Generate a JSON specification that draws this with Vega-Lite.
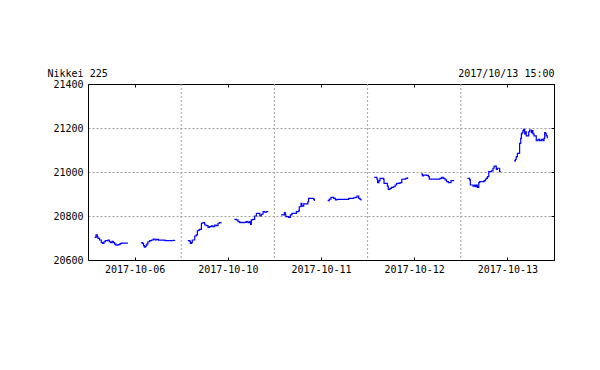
{
  "$schema": "https://vega.github.io/schema/vega-lite/v6.json",
  "autosize": {"type": "none"},
  "padding": {"left": 88, "top": 84, "right": 46, "bottom": 110},
  "width": 466,
  "height": 176,
  "background": "white",
  "config": {
    "font": "DejaVu Sans Mono",
    "view": {"stroke": "black", "strokeWidth": 1},
    "axis": {
      "labelFont": "DejaVu Sans Mono",
      "labelFontSize": 10,
      "labelColor": "black",
      "titleFont": "DejaVu Sans Mono",
      "titleFontSize": 10,
      "titleFontWeight": "normal",
      "titleColor": "black",
      "domainColor": "black",
      "tickColor": "black",
      "tickSize": -3,
      "gridColor": "#a0a0a0",
      "gridDash": [2, 2],
      "gridOpacity": 1
    }
  },
  "datasets": {
    "px": [
      {"s":"1a","t":30,"v":20703},{"s":"1a","t":36,"v":20714},{"s":"1a","t":42,"v":20705},{"s":"1a","t":45,"v":20698},{"s":"1a","t":52,"v":20691},{"s":"1a","t":60,"v":20679},{"s":"1a","t":66,"v":20676},{"s":"1a","t":72,"v":20683},{"s":"1a","t":78,"v":20688},{"s":"1a","t":84,"v":20688},{"s":"1a","t":90,"v":20691},{"s":"1a","t":96,"v":20683},{"s":"1a","t":102,"v":20679},{"s":"1a","t":108,"v":20685},{"s":"1a","t":114,"v":20679},{"s":"1a","t":120,"v":20672},{"s":"1a","t":126,"v":20668},{"s":"1a","t":135,"v":20670},{"s":"1a","t":144,"v":20674},{"s":"1a","t":150,"v":20677},{"s":"1a","t":180,"v":20677},
      {"s":"1p","t":240,"v":20679},{"s":"1p","t":245,"v":20676},{"s":"1p","t":250,"v":20665},{"s":"1p","t":254,"v":20658},{"s":"1p","t":258,"v":20661},{"s":"1p","t":262,"v":20668},{"s":"1p","t":266,"v":20673},{"s":"1p","t":270,"v":20683},{"s":"1p","t":278,"v":20688},{"s":"1p","t":287,"v":20691},{"s":"1p","t":294,"v":20695},{"s":"1p","t":302,"v":20691},{"s":"1p","t":309,"v":20694},{"s":"1p","t":317,"v":20690},{"s":"1p","t":332,"v":20690},{"s":"1p","t":347,"v":20688},{"s":"1p","t":370,"v":20688},{"s":"1p","t":384,"v":20689},{"s":"1p","t":390,"v":20691},
      {"s":"2a","t":450,"v":20688},{"s":"2a","t":458,"v":20686},{"s":"2a","t":461,"v":20676},{"s":"2a","t":466,"v":20679},{"s":"2a","t":470,"v":20691},{"s":"2a","t":476,"v":20691},{"s":"2a","t":481,"v":20709},{"s":"2a","t":488,"v":20714},{"s":"2a","t":493,"v":20733},{"s":"2a","t":499,"v":20736},{"s":"2a","t":503,"v":20739},{"s":"2a","t":511,"v":20767},{"s":"2a","t":518,"v":20770},{"s":"2a","t":526,"v":20759},{"s":"2a","t":533,"v":20756},{"s":"2a","t":541,"v":20748},{"s":"2a","t":548,"v":20752},{"s":"2a","t":556,"v":20755},{"s":"2a","t":563,"v":20752},{"s":"2a","t":571,"v":20759},{"s":"2a","t":578,"v":20756},{"s":"2a","t":586,"v":20767},{"s":"2a","t":593,"v":20770},{"s":"2a","t":600,"v":20771},
      {"s":"2p","t":660,"v":20785},{"s":"2p","t":668,"v":20782},{"s":"2p","t":676,"v":20774},{"s":"2p","t":684,"v":20770},{"s":"2p","t":691,"v":20771},{"s":"2p","t":698,"v":20770},{"s":"2p","t":706,"v":20771},{"s":"2p","t":713,"v":20774},{"s":"2p","t":721,"v":20770},{"s":"2p","t":729,"v":20774},{"s":"2p","t":733,"v":20762},{"s":"2p","t":736,"v":20782},{"s":"2p","t":743,"v":20785},{"s":"2p","t":751,"v":20800},{"s":"2p","t":759,"v":20812},{"s":"2p","t":766,"v":20812},{"s":"2p","t":774,"v":20800},{"s":"2p","t":781,"v":20808},{"s":"2p","t":789,"v":20820},{"s":"2p","t":796,"v":20817},{"s":"2p","t":804,"v":20820},{"s":"2p","t":810,"v":20823},
      {"s":"3a","t":870,"v":20805},{"s":"3a","t":882,"v":20805},{"s":"3a","t":885,"v":20815},{"s":"3a","t":889,"v":20805},{"s":"3a","t":892,"v":20797},{"s":"3a","t":904,"v":20794},{"s":"3a","t":912,"v":20805},{"s":"3a","t":919,"v":20812},{"s":"3a","t":934,"v":20812},{"s":"3a","t":939,"v":20820},{"s":"3a","t":949,"v":20823},{"s":"3a","t":952,"v":20842},{"s":"3a","t":960,"v":20858},{"s":"3a","t":964,"v":20845},{"s":"3a","t":972,"v":20855},{"s":"3a","t":987,"v":20855},{"s":"3a","t":991,"v":20865},{"s":"3a","t":994,"v":20880},{"s":"3a","t":1009,"v":20880},{"s":"3a","t":1017,"v":20876},{"s":"3a","t":1020,"v":20868},
      {"s":"3p","t":1080,"v":20870},{"s":"3p","t":1087,"v":20877},{"s":"3p","t":1095,"v":20885},{"s":"3p","t":1102,"v":20885},{"s":"3p","t":1107,"v":20880},{"s":"3p","t":1115,"v":20873},{"s":"3p","t":1122,"v":20876},{"s":"3p","t":1167,"v":20876},{"s":"3p","t":1175,"v":20880},{"s":"3p","t":1190,"v":20880},{"s":"3p","t":1197,"v":20883},{"s":"3p","t":1205,"v":20885},{"s":"3p","t":1212,"v":20891},{"s":"3p","t":1220,"v":20880},{"s":"3p","t":1226,"v":20876},{"s":"3p","t":1230,"v":20870},
      {"s":"4a","t":1290,"v":20976},{"s":"4a","t":1302,"v":20967},{"s":"4a","t":1305,"v":20952},{"s":"4a","t":1311,"v":20961},{"s":"4a","t":1316,"v":20971},{"s":"4a","t":1323,"v":20971},{"s":"4a","t":1331,"v":20968},{"s":"4a","t":1334,"v":20948},{"s":"4a","t":1341,"v":20948},{"s":"4a","t":1349,"v":20936},{"s":"4a","t":1353,"v":20921},{"s":"4a","t":1361,"v":20926},{"s":"4a","t":1368,"v":20930},{"s":"4a","t":1376,"v":20933},{"s":"4a","t":1384,"v":20941},{"s":"4a","t":1391,"v":20948},{"s":"4a","t":1398,"v":20948},{"s":"4a","t":1406,"v":20952},{"s":"4a","t":1414,"v":20967},{"s":"4a","t":1421,"v":20968},{"s":"4a","t":1432,"v":20971},{"s":"4a","t":1440,"v":20976},
      {"s":"4p","t":1500,"v":20991},{"s":"4p","t":1507,"v":20982},{"s":"4p","t":1511,"v":20986},{"s":"4p","t":1519,"v":20986},{"s":"4p","t":1526,"v":20985},{"s":"4p","t":1534,"v":20979},{"s":"4p","t":1538,"v":20968},{"s":"4p","t":1549,"v":20967},{"s":"4p","t":1556,"v":20968},{"s":"4p","t":1571,"v":20968},{"s":"4p","t":1579,"v":20967},{"s":"4p","t":1586,"v":20971},{"s":"4p","t":1594,"v":20976},{"s":"4p","t":1601,"v":20971},{"s":"4p","t":1609,"v":20964},{"s":"4p","t":1616,"v":20956},{"s":"4p","t":1624,"v":20952},{"s":"4p","t":1631,"v":20952},{"s":"4p","t":1636,"v":20961},{"s":"4p","t":1650,"v":20961},
      {"s":"5a","t":1710,"v":20971},{"s":"5a","t":1720,"v":20964},{"s":"5a","t":1723,"v":20941},{"s":"5a","t":1735,"v":20936},{"s":"5a","t":1742,"v":20941},{"s":"5a","t":1745,"v":20933},{"s":"5a","t":1750,"v":20941},{"s":"5a","t":1755,"v":20930},{"s":"5a","t":1761,"v":20952},{"s":"5a","t":1765,"v":20956},{"s":"5a","t":1780,"v":20956},{"s":"5a","t":1785,"v":20961},{"s":"5a","t":1791,"v":20967},{"s":"5a","t":1795,"v":20971},{"s":"5a","t":1800,"v":20979},{"s":"5a","t":1806,"v":21002},{"s":"5a","t":1818,"v":21005},{"s":"5a","t":1825,"v":21017},{"s":"5a","t":1830,"v":21027},{"s":"5a","t":1836,"v":21027},{"s":"5a","t":1840,"v":21012},{"s":"5a","t":1845,"v":21017},{"s":"5a","t":1851,"v":21017},{"s":"5a","t":1855,"v":21002},{"s":"5a","t":1860,"v":21002},
      {"s":"5p","t":1920,"v":21051},{"s":"5p","t":1926,"v":21058},{"s":"5p","t":1930,"v":21070},{"s":"5p","t":1935,"v":21085},{"s":"5p","t":1941,"v":21085},{"s":"5p","t":1945,"v":21130},{"s":"5p","t":1950,"v":21153},{"s":"5p","t":1953,"v":21173},{"s":"5p","t":1956,"v":21179},{"s":"5p","t":1960,"v":21188},{"s":"5p","t":1963,"v":21194},{"s":"5p","t":1968,"v":21173},{"s":"5p","t":1972,"v":21183},{"s":"5p","t":1975,"v":21164},{"s":"5p","t":1983,"v":21164},{"s":"5p","t":1986,"v":21183},{"s":"5p","t":1990,"v":21191},{"s":"5p","t":1998,"v":21179},{"s":"5p","t":2001,"v":21188},{"s":"5p","t":2005,"v":21173},{"s":"5p","t":2010,"v":21164},{"s":"5p","t":2016,"v":21164},{"s":"5p","t":2020,"v":21142},{"s":"5p","t":2028,"v":21148},{"s":"5p","t":2035,"v":21142},{"s":"5p","t":2043,"v":21148},{"s":"5p","t":2050,"v":21142},{"s":"5p","t":2055,"v":21153},{"s":"5p","t":2058,"v":21179},{"s":"5p","t":2061,"v":21176},{"s":"5p","t":2065,"v":21164},{"s":"5p","t":2070,"v":21153}
    ],
    "days": [{"b": 420}, {"b": 840}, {"b": 1260}, {"b": 1680}]
  },
  "resolve": {"axis": {"x": "independent", "y": "independent"}},
  "layer": [
    {
      "data": {"name": "days"},
      "mark": {"type": "rule", "color": "#a0a0a0", "strokeDash": [2, 2], "strokeWidth": 1},
      "encoding": {
        "x": {
          "field": "b", "type": "quantitative",
          "scale": {"domain": [0, 2100], "nice": false, "zero": false},
          "axis": {"orient": "top", "values": [210, 630, 1050, 1470, 1890], "labels": false, "title": null, "grid": false}
        }
      }
    },
    {
      "data": {"name": "px"},
      "mark": {"type": "line", "color": "#0000ff", "strokeWidth": 1.2, "interpolate": "step-after"},
      "encoding": {
        "x": {
          "field": "t", "type": "quantitative",
          "scale": {"domain": [0, 2100], "nice": false, "zero": false},
          "axis": {
            "orient": "bottom",
            "values": [210, 630, 1050, 1470, 1890],
            "labelExpr": "['2017-10-06','2017-10-10','2017-10-11','2017-10-12','2017-10-13'][floor(datum.value / 420)]",
            "labelPadding": 7,
            "title": null,
            "grid": false
          }
        },
        "y": {
          "field": "v", "type": "quantitative",
          "scale": {"domain": [20600, 21400], "nice": false, "zero": false},
          "axis": {
            "orient": "left",
            "values": [20600, 20800, 21000, 21200, 21400],
            "format": "d",
            "ticks": false,
            "labelPadding": 5,
            "grid": true,
            "title": "Nikkei 225",
            "titleAngle": 0,
            "titleAlign": "left",
            "titleBaseline": "alphabetic",
            "titleX": -41,
            "titleY": -8
          }
        },
        "detail": {"field": "s", "type": "nominal"}
      }
    },
    {
      "data": {"name": "px"},
      "mark": {"type": "line", "opacity": 0},
      "encoding": {
        "x": {"field": "t", "type": "quantitative", "axis": null},
        "y": {
          "field": "v", "type": "quantitative",
          "axis": {
            "orient": "right",
            "values": [20600, 20800, 21000, 21200, 21400],
            "labels": false,
            "grid": false,
            "title": "2017/10/13 15:00",
            "titleAngle": 0,
            "titleAlign": "right",
            "titleBaseline": "alphabetic",
            "titleX": 0,
            "titleY": -8
          }
        },
        "detail": {"field": "s", "type": "nominal"}
      }
    }
  ]
}
